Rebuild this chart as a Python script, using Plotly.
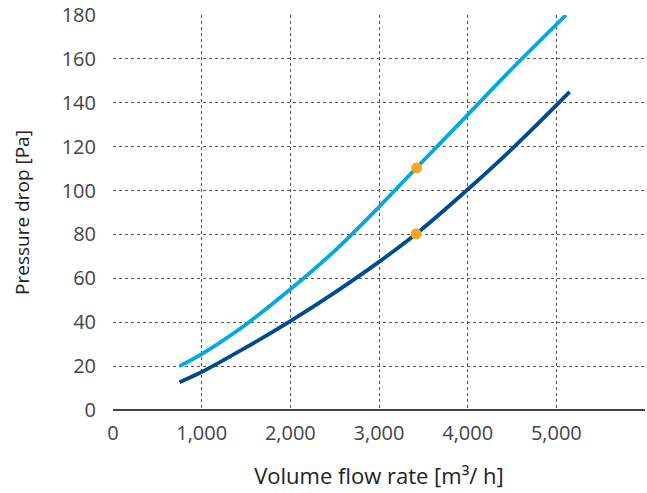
import plotly.graph_objects as go

flow_light = [750, 1000, 1500, 2000, 2500, 3000, 3420, 4000, 4500, 5110]
dp_light = [20, 25.5, 39, 55, 72.5, 92.5, 110.3, 134.5, 155.5, 180]
flow_dark = [750, 1000, 1500, 2000, 2500, 3000, 3420, 4000, 4500, 5150]
dp_dark = [12.7, 17.3, 28.5, 40.5, 53.5, 67.5, 80.3, 100.5, 119, 145]
op_flow = [3425, 3418]
op_dp = [110.3, 80.3]

x_ticks = [0, 1000, 2000, 3000, 4000, 5000]
x_labels = ["0", "1,000", "2,000", "3,000", "4,000", "5,000"]
y_ticks = list(range(0, 181, 20))

fig = go.Figure()
fig.add_trace(go.Scatter(x=flow_light, y=dp_light, mode="lines",
                         line=dict(color="#00a9e0", width=3.8, shape="spline", smoothing=1),
                         cliponaxis=False, showlegend=False))
fig.add_trace(go.Scatter(x=flow_dark, y=dp_dark, mode="lines",
                         line=dict(color="#004b8d", width=3.8, shape="spline", smoothing=1),
                         cliponaxis=False, showlegend=False))
fig.add_trace(go.Scatter(x=op_flow, y=op_dp, mode="markers",
                         marker=dict(color="#f5a623", size=11),
                         cliponaxis=False, showlegend=False))

font_family = "Open Sans, Noto Sans, sans-serif"
fig.update_layout(
    width=647, height=493,
    margin=dict(l=113, r=2, t=15, b=83),
    paper_bgcolor="white", plot_bgcolor="white",
    font=dict(family=font_family, color="#333333"),
)
fig.update_xaxes(
    range=[0, 6000], tickvals=x_ticks, ticktext=x_labels,
    showgrid=True, gridcolor="#555555", griddash="dot", gridwidth=1,
    zeroline=False, showline=False, automargin=False,
    tickfont=dict(size=20, color="#444444"), ticks="", ticklabelstandoff=9,
    title=dict(text="Volume flow rate [m³/ h]", font=dict(size=22, color="#222222"), standoff=23),
)
fig.update_yaxes(
    range=[0, 180], tickvals=y_ticks,
    showgrid=True, gridcolor="#555555", griddash="dot", gridwidth=1,
    zeroline=True, zerolinecolor="#444444", zerolinewidth=1.5,
    showline=False, automargin=False, ticklabeloverflow="allow",
    tickfont=dict(size=20, color="#444444"), ticks="", ticklabelstandoff=16,
    title=dict(text="Pressure drop [Pa]", font=dict(size=19, color="#222222"), standoff=27),
)
fig.write_html("out.html", post_script="document.body.style.margin='0';",
               config={"displayModeBar": False})
